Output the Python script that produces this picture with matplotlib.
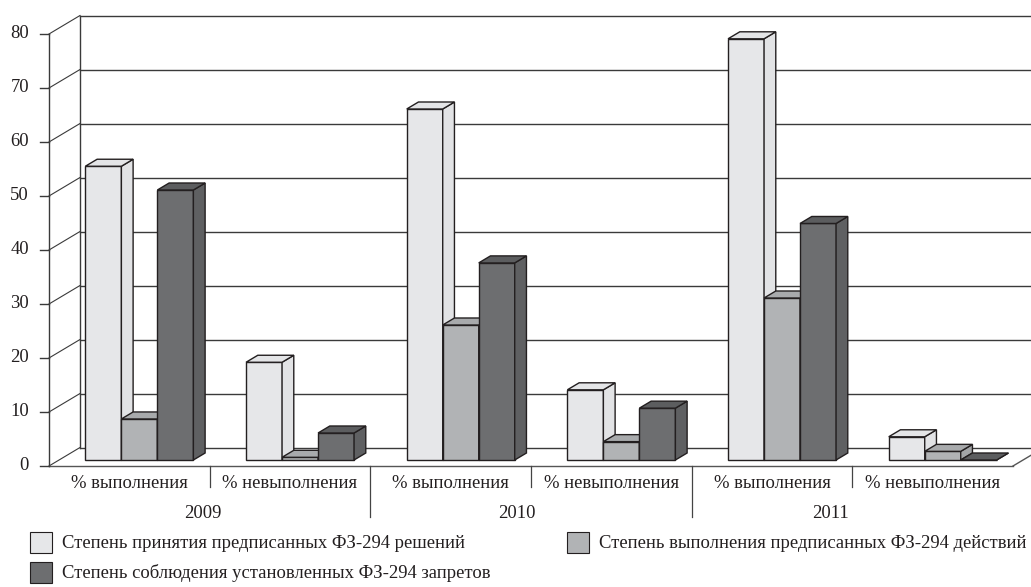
import matplotlib
matplotlib.use("Agg")
import matplotlib.pyplot as plt
from matplotlib.patches import Polygon, Rectangle
import numpy as np

# ---------------- data ----------------
years = ["2009", "2010", "2011"]
subcats = ["% выполнения", "% невыполнения"]
series_names = [
    "Степень принятия предписанных ФЗ-294 решений",
    "Степень выполнения предписанных ФЗ-294 действий",
    "Степень соблюдения установленных ФЗ-294 запретов",
]
# values per category (2009 вып, 2009 невып, 2010 вып, 2010 невып, 2011 вып, 2011 невып)
s_accept = [54.4, 18.1, 65.0, 13.0, 78.0, 4.3]
s_exec = [7.6, 0.5, 25.0, 3.4, 30.0, 1.6]
s_comply = [50.0, 5.0, 36.5, 9.6, 43.8, 0.0]
y_ticks = [0, 10, 20, 30, 40, 50, 60, 70, 80]

front_cols = ["#E6E7E9", "#B1B3B5", "#6D6E70"]
side_cols = ["#E2E3E5", "#A3A5A7", "#5F6062"]
top_cols = ["#E4E5E7", "#A8AAAC", "#5C5D5F"]
edge = "#231F20"
FONT = "Liberation Serif"
FS = 13.4

W, H = 1031, 587
fig = plt.figure(figsize=(W / 100, H / 100), dpi=100)
x_left, x_right, y0_px, y80_px = 49, 1013, 466, 34
ax = fig.add_axes([x_left / W, (H - y0_px) / H, (x_right - x_left) / W, (y0_px - y80_px) / H])
ncat = len(s_accept)
ax.set_xlim(0, ncat)
ax.set_ylim(0, 80)
ax.axis("off")

px_x = (x_right - x_left) / ncat      # pixels per x unit
px_y = (y0_px - y80_px) / 80.0         # pixels per y unit
DX = 31 / px_x
DY = 18.5 / px_y


def P(x, y, d):
    return (x + d * DX, y + d * DY)


line_col = "#3a3a3a"
lw = 1.0
# back wall gridlines
for v in y_ticks:
    a, b = P(0, v, 1), P(ncat + 0.5, v, 1)
    ax.plot([a[0], b[0]], [a[1], b[1]], color=line_col, lw=lw, clip_on=False, zorder=1)
    # left side wall diagonal
    c, e = P(0, v, 0), P(0, v, 1)
    ax.plot([c[0], e[0]], [c[1], e[1]], color=line_col, lw=0.8, clip_on=False, zorder=1)
# back wall left edge
a, b = P(0, 0, 1), P(0, 80, 1)
ax.plot([a[0], b[0]], [a[1], b[1]], color=line_col, lw=lw, clip_on=False, zorder=1)
# front axis
ax.plot([0, 0], [0, 80], color=line_col, lw=lw, clip_on=False, zorder=1)
# floor
ax.plot([0, ncat], [0, 0], color="#555555", lw=lw, clip_on=False, zorder=1)
a = P(ncat, 0, 1)
ax.plot([ncat, a[0]], [0, a[1]], color="#555555", lw=lw, clip_on=False, zorder=1)

# ticks and labels
tick_len = 9 / px_x
for v in y_ticks:
    ax.plot([-tick_len, 0], [v, v], color=line_col, lw=lw, clip_on=False)
    ax.text(-20 / px_x, v, str(v), ha="right", va="center", fontsize=FS, family=FONT,
            color="#231F20")

# bars
series = [s_accept, s_exec, s_comply]
bw = 36 / px_x
d1, d2 = 6 / 18.5, 13 / 18.5
k = 0
for i in range(ncat):
    for j, s in enumerate(series):
        h = s[i]
        x0 = i + 0.5 - 1.5 * bw + j * bw
        z = 2 + k * 0.01
        k += 1
        fx, fy = P(x0, 0, d1)
        bars = ax.bar([fx], [h], width=bw, bottom=fy, align="edge", color=front_cols[j],
                      edgecolor=edge, linewidth=1.0, clip_on=False)
        for p in bars.patches:
            p.set_zorder(z)
        xr = x0 + bw
        side = [P(xr, 0, d1), P(xr, h, d1), P(xr, h, d2), P(xr, 0, d2)]
        ax.add_patch(Polygon(side, closed=True, facecolor=side_cols[j], edgecolor=edge,
                             linewidth=1.0, zorder=z + 0.001, clip_on=False))
        top = [P(x0, h, d1), P(xr, h, d1), P(xr, h, d2), P(x0, h, d2)]
        ax.add_patch(Polygon(top, closed=True, facecolor=top_cols[j], edgecolor=edge,
                             linewidth=1.0, zorder=z + 0.002, clip_on=False))

# category labels
lab_y = -(484 - y0_px) / px_y
for i in range(ncat):
    ax.text(i + 0.5, lab_y, subcats[i % 2], ha="center", va="center", fontsize=FS,
            family=FONT, color="#231F20")
year_y = -(514 - y0_px) / px_y
for g, yr in enumerate(years):
    ax.text(2 * g + 1 - 0.045 * (g + 1), year_y, yr, ha="center", va="center", fontsize=FS,
            family=FONT, color="#231F20")
# dividers
for xd in range(1, ncat):
    bottom = 517 if xd % 2 == 0 else 487
    ax.plot([xd, xd], [0, -(bottom - y0_px) / px_y], color="#444444", lw=0.9, clip_on=False)

# legend (figure pixel coords)
leg_pos = [(30, 532), (567, 532), (30, 562)]
for j, (lx, ly) in enumerate(leg_pos):
    fig.patches.append(Rectangle((lx / W, (H - ly - 21) / H), 22 / W, 21 / H,
                                 transform=fig.transFigure, facecolor=front_cols[j],
                                 edgecolor="#231F20", linewidth=0.8))
    fig.text((lx + 32) / W, (H - ly - 11) / H, series_names[j], ha="left", va="center",
             fontsize=FS, family=FONT, color="#231F20")

fig.savefig("out.png", dpi=100)
